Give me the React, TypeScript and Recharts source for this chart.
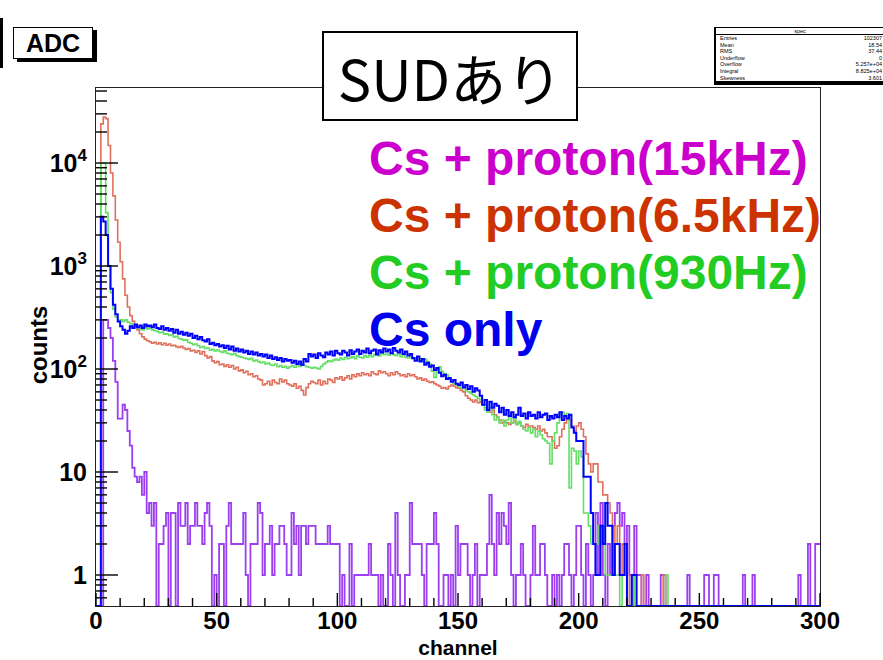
import React from 'react';
import { LineChart, Line, XAxis, YAxis } from 'recharts';

// ADC spectrum with SUD, counts per channel (bin width = 1 channel, channels 0..299)
const csOnly = [
  0, 0, 3000, 2700, 2000, 1000, 600, 420, 340, 290, 260, 240, 220, 235, 260, 250, 270, 255, 265, 250,
  270, 260, 265, 255, 270, 250, 245, 260, 240, 250, 235, 245, 225, 240, 220, 230, 215, 225, 210, 220,
  200, 210, 195, 205, 190, 185, 195, 175, 180, 170, 175, 165, 170, 160, 168, 155, 165, 150, 158, 148,
  155, 145, 150, 140, 148, 138, 145, 135, 140, 132, 138, 128, 135, 125, 130, 122, 128, 118, 125, 120,
  122, 115, 120, 112, 118, 110, 125, 118, 140, 132, 138, 128, 142, 135, 130, 145, 138, 148, 135, 150,
  142, 138, 150, 145, 135, 152, 140, 148, 155, 140, 150, 145, 158, 142, 150, 155, 138, 152, 145, 158,
  148, 155, 142, 160, 150, 145, 155, 140, 148, 135, 140, 128, 120, 132, 118, 125, 110, 115, 105, 108,
  98, 102, 92, 85, 88, 80, 82, 75, 78, 72, 70, 74, 66, 70, 64, 68, 60, 65, 62, 55,
  45, 50, 40, 48, 42, 46, 44, 38, 42, 36, 40, 35, 38, 34, 36, 42, 35, 37, 33, 38,
  35, 36, 33, 38, 34, 36, 37, 32, 35, 33, 36, 34, 38, 32, 35, 33, 36, 27, 24, 20,
  20, 20, 9, 9, 9, 4, 2, 1, 1, 3, 2, 5, 3, 3, 1, 2, 2, 1, 1, 2,
  0, 0, 1, 1, 0, 0, 0, 0, 0, 0, 0, 0, 0, 0, 0, 0, 0, 0, 0, 0,
  0, 0, 0, 0, 0, 0, 0, 0, 0, 0, 0, 0, 0, 0, 0, 0, 0, 0, 0, 0,
  0, 0, 0, 0, 0, 0, 0, 0, 0, 0, 0, 0, 0, 0, 0, 0, 0, 0, 0, 0,
  0, 0, 0, 0, 0, 0, 0, 0, 0, 0, 0, 0, 0, 0, 0, 0, 0, 0, 0, 0,
];

const cs930Hz = [
  0, 0, 10000, 10000, 3300, 1000, 550, 380, 320, 290, 300, 290, 300, 285, 275, 265, 255, 250, 245, 240,
  255, 245, 250, 240, 235, 232, 225, 228, 218, 220, 212, 215, 205, 208, 198, 195, 190, 192, 182, 178,
  172, 175, 168, 162, 165, 158, 160, 152, 155, 150, 153, 148, 145, 150, 142, 140, 138, 142, 135, 132,
  130, 128, 126, 124, 127, 120, 122, 118, 115, 117, 112, 114, 110, 108, 112, 105, 108, 104, 106, 102,
  105, 108, 104, 110, 106, 109, 108, 105, 104, 102, 104, 102, 100, 106, 112, 116, 120, 118, 122, 125,
  122, 128, 124, 130, 126, 128, 132, 126, 134, 130, 128, 135, 130, 136, 132, 138, 140, 134, 142, 138,
  140, 136, 142, 138, 135, 140, 132, 136, 130, 128, 132, 125, 128, 122, 126, 120, 124, 118, 112, 95,
  83, 100, 105, 95, 90, 88, 80, 76, 72, 70, 68, 65, 66, 62, 60, 58, 56, 54, 52, 50,
  45, 40, 38, 42, 36, 32, 34, 30, 32, 28, 32, 35, 30, 33, 29, 31, 28, 26, 25, 27,
  24, 26, 22, 25, 23, 21, 20, 19, 12, 20, 24, 30, 36, 38, 36, 37, 7, 17, 16, 12,
  16, 14, 4, 4, 3, 2, 2, 2, 3, 2, 3, 1, 1, 1, 2, 1, 1, 0, 1, 1,
  0, 0, 1, 0, 0, 0, 0, 0, 0, 0, 0, 0, 0, 0, 0, 0, 1, 0, 0, 0,
  0, 0, 0, 0, 0, 0, 0, 0, 0, 0, 0, 0, 0, 0, 0, 0, 0, 0, 0, 0,
  0, 0, 0, 0, 0, 0, 0, 0, 0, 0, 0, 0, 0, 0, 0, 0, 0, 0, 0, 0,
  0, 0, 0, 0, 0, 0, 0, 0, 0, 0, 0, 0, 0, 0, 0, 0, 0, 0, 0, 0,
];

const cs65kHz = [
  0, 0, 24000, 28000, 27000, 14800, 8000, 4800, 2800, 1700, 1100, 750, 520, 400, 330, 290, 260, 240, 220, 205,
  195, 188, 184, 178, 182, 175, 180, 172, 178, 170, 175, 168, 170, 165, 162, 166, 160, 155, 158, 150,
  152, 145, 150, 140, 148, 135, 128, 132, 120, 115, 118, 110, 112, 106, 110, 104, 108, 100, 104, 96,
  98, 92, 95, 88, 90, 84, 86, 80, 78, 70, 72, 76, 70, 78, 74, 72, 80, 75, 78, 72,
  70, 68, 72, 65, 68, 62, 56, 66, 72, 76, 74, 72, 78, 70, 76, 72, 80, 78, 74, 82,
  80, 84, 78, 82, 86, 80, 88, 84, 90, 86, 92, 88, 90, 86, 94, 90, 88, 96, 92, 94,
  90, 86, 92, 88, 94, 90, 86, 88, 84, 90, 86, 88, 84, 80, 82, 78, 80, 76, 74, 75,
  72, 70, 68, 65, 66, 64, 68, 70, 68, 66, 65, 62, 60, 55, 52, 50, 48, 50, 47, 48,
  45, 42, 40, 38, 40, 36, 34, 32, 30, 31, 30, 29, 30, 31, 29, 30, 28, 27, 29, 28,
  28, 27, 26, 28, 25, 26, 24, 22, 22, 20, 17, 18, 22, 26, 30, 32, 32, 28, 25, 28,
  30, 26, 22, 15, 12, 10, 12, 12, 8, 8, 6, 6, 5, 4, 3, 2, 3, 1, 2, 1,
  0, 1, 0, 0, 0, 0, 1, 0, 0, 0, 0, 0, 0, 0, 0, 1, 0, 0, 0, 0,
  0, 0, 0, 0, 0, 0, 0, 0, 0, 0, 0, 0, 0, 0, 0, 0, 0, 0, 0, 0,
  0, 0, 0, 0, 0, 0, 0, 0, 0, 0, 0, 0, 0, 0, 0, 0, 0, 0, 0, 0,
  0, 0, 0, 0, 0, 0, 0, 0, 0, 0, 0, 0, 0, 0, 0, 0, 0, 0, 0, 0,
];

const cs15kHz = [
  0, 0, 0, 300, 300, 250, 200, 120, 75, 33, 33, 45, 40, 25, 18, 11, 9, 8, 9, 6,
  10, 4, 5, 3, 5, 0, 2, 2, 3, 4, 0, 4, 4, 0, 5, 3, 3, 5, 2, 3,
  3, 5, 3, 3, 2, 4, 5, 3, 0, 1, 0, 2, 2, 0, 3, 5, 2, 2, 2, 2,
  2, 4, 1, 0, 2, 2, 2, 5, 4, 1, 2, 2, 3, 1, 2, 2, 3, 3, 2, 1,
  1, 4, 2, 3, 1, 3, 3, 2, 3, 3, 3, 2, 2, 2, 2, 2, 3, 2, 2, 2,
  2, 0, 1, 0, 0, 2, 0, 1, 1, 1, 1, 1, 1, 2, 1, 1, 1, 0, 1, 0,
  0, 2, 1, 0, 4, 1, 0, 0, 1, 1, 5, 2, 2, 2, 2, 1, 0, 2, 2, 2,
  4, 2, 0, 0, 1, 1, 0, 1, 0, 3, 1, 2, 2, 2, 1, 0, 1, 2, 0, 1,
  1, 1, 2, 6, 2, 1, 4, 2, 4, 3, 2, 5, 1, 0, 1, 1, 2, 1, 0, 0,
  1, 3, 1, 1, 2, 2, 1, 0, 0, 1, 0, 1, 0, 1, 2, 2, 1, 0, 1, 3,
  3, 1, 0, 2, 1, 0, 1, 4, 1, 5, 1, 0, 2, 1, 3, 4, 5, 3, 4, 2,
  3, 1, 0, 3, 1, 1, 0, 0, 1, 0, 0, 0, 0, 0, 1, 1, 0, 0, 0, 0,
  0, 0, 0, 0, 0, 1, 0, 0, 0, 0, 0, 0, 1, 1, 0, 0, 1, 1, 0, 0,
  0, 0, 0, 0, 0, 0, 0, 0, 1, 0, 0, 0, 1, 0, 0, 0, 0, 0, 0, 0,
  0, 0, 0, 0, 0, 0, 0, 0, 0, 0, 0, 1, 0, 0, 0, 2, 0, 0, 2, 2,
];

const legendItems = [
  { text: 'Cs + proton(15kHz)', color: '#cc00cc' },
  { text: 'Cs + proton(6.5kHz)', color: '#cc3300' },
  { text: 'Cs + proton(930Hz)', color: '#22cc22' },
  { text: 'Cs only', color: '#0000ee' },
];

const xMajorTicks = [0, 50, 100, 150, 200, 250, 300];
const xTicks = [
  0, 10, 20, 30, 40, 50, 60, 70, 80, 90, 100, 110, 120, 130, 140, 150,
  160, 170, 180, 190, 200, 210, 220, 230, 240, 250, 260, 270, 280, 290, 300,
];
const yMajorTicks = [1, 10, 100, 1000, 10000];
const yMinorSteps = [2, 3, 4, 5, 6, 7, 8, 9];
const yBelowOne = [0.6, 0.7, 0.8, 0.9];

const statsRows = [
  ['Entries', '102307'],
  ['Mean', '18.54'],
  ['RMS', '37.44'],
  ['Underflow', '0'],
  ['Overflow', '5.257e+04'],
  ['Integral', '8.825e+04'],
  ['Skewness', '3.601'],
];

const Y_MIN = 0.5; // bottom of log axis, empty bins are drawn on it
const Y_MAX = 53500;

const yTicks = [...yBelowOne];
yMajorTicks.forEach((d) => {
  yTicks.push(d);
  yMinorSteps.forEach((m) => {
    if (m * d <= Y_MAX) yTicks.push(m * d);
  });
});

const onLog = (v: number) => (v > 0 ? v : Y_MIN);

const rows = csOnly.map((_, i) => ({
  ch: i,
  blue: onLog(csOnly[i]),
  green: onLog(cs930Hz[i]),
  red: onLog(cs65kHz[i]),
  purple: onLog(cs15kHz[i]),
}));
// closing edge of the last bin
rows.push({ ...rows[rows.length - 1], ch: 300 });

const FONT = '"Liberation Sans", Arial, Helvetica, sans-serif';

const YTick = (props: any) => {
  const { x, y, payload } = props;
  const v = payload.value;
  const major = yMajorTicks.includes(v);
  const exp = Math.round(Math.log10(v));
  return (
    <g>
      <line x1={x} x2={x + (major ? 22 : 11)} y1={y} y2={y} stroke="#000" strokeWidth={1.4} />
      {major && (
        <text x={x - 9} y={y + 9} textAnchor="end" fontFamily={FONT} fontWeight="bold" fontSize={25} fill="#000">
          {v < 100 ? (
            String(v)
          ) : (
            <>
              10
              <tspan dy={-11} fontSize={17}>{exp}</tspan>
            </>
          )}
        </text>
      )}
    </g>
  );
};

const XTick = (props: any) => {
  const { x, y, payload } = props;
  const major = xMajorTicks.includes(payload.value);
  return (
    <g>
      <line x1={x} x2={x} y1={y} y2={y - (major ? 13 : 8)} stroke="#000" strokeWidth={1.4} />
      {major && (
        <text x={x} y={y + 23} textAnchor="middle" fontFamily={FONT} fontWeight="bold" fontSize={24} fill="#000">
          {payload.value}
        </text>
      )}
    </g>
  );
};

export default function App() {
  return (
    <div style={{ position: 'absolute', left: 0, top: 0, width: 883, height: 660, overflow: 'hidden', background: '#fff' }}>
      {/* plot frame */}
      <div style={{ position: 'absolute', left: 95, top: 87, width: 726, height: 520, border: '1.5px solid #222', boxSizing: 'border-box' }} />

      <div style={{ position: 'absolute', left: 0, top: 0 }}>
        <LineChart width={883} height={660} data={rows} margin={{ top: 88, right: 63, bottom: 0, left: 0 }}>
          <XAxis
            dataKey="ch"
            type="number"
            domain={[0, 300]}
            ticks={xTicks}
            interval={0}
            tickSize={0}
            tickMargin={0}
            axisLine={false}
            tick={<XTick />}
            height={54}
            allowDataOverflow
          />
          <YAxis
            scale="log"
            type="number"
            domain={[Y_MIN, Y_MAX]}
            ticks={yTicks}
            interval={0}
            tickSize={0}
            tickMargin={0}
            axisLine={false}
            tick={<YTick />}
            width={96}
            allowDataOverflow
          />
          <Line dataKey="purple" type="stepAfter" stroke="#9b3ff0" strokeWidth={1.8} dot={false} isAnimationActive={false} />
          <Line dataKey="red" type="stepAfter" stroke="#e0705c" strokeWidth={1.6} dot={false} isAnimationActive={false} />
          <Line dataKey="green" type="stepAfter" stroke="#66dd66" strokeWidth={1.6} dot={false} isAnimationActive={false} />
          <Line dataKey="blue" type="stepAfter" stroke="#0000ff" strokeWidth={2} dot={false} isAnimationActive={false} />
        </LineChart>
      </div>

      {/* axis titles and legend */}
      <div style={{ position: 'absolute', left: 0, top: 0, width: 883, height: 660, pointerEvents: 'none' }}>
        <svg width={883} height={660}>
          <text x={458} y={655} textAnchor="middle" fontFamily={FONT} fontWeight="bold" fontSize={21}>channel</text>
          <text x={47} y={345} transform="rotate(-90 47 345)" textAnchor="middle" fontFamily={FONT} fontWeight="bold" fontSize={24}>counts</text>
          {legendItems.map((item, i) => (
            <text key={item.text} x={369} y={175 + i * 57} fontFamily={FONT} fontWeight="bold" fontSize={48} fill={item.color}>
              {item.text}
            </text>
          ))}
        </svg>
      </div>

      {/* corner of the canvas box at the far left */}
      <div style={{ position: 'absolute', left: 0, top: 18, width: 3, height: 50, background: '#000' }} />

      {/* ADC title box */}
      <div
        style={{
          position: 'absolute', left: 13, top: 27, width: 80, height: 32, border: '1.5px solid #000', boxSizing: 'border-box',
          boxShadow: '4px 3px 0 #000', background: '#fff', fontFamily: FONT, fontWeight: 'bold', fontSize: 25,
          display: 'flex', alignItems: 'center', justifyContent: 'center',
        }}
      >
        ADC
      </div>

      {/* stats box */}
      <div
        style={{
          position: 'absolute', left: 714, top: 27, width: 190, height: 55, border: '1px solid #000', borderLeftWidth: 2,
          boxSizing: 'border-box', boxShadow: '0 3px 0 #000', background: '#fff', fontFamily: FONT, fontSize: 5.5, lineHeight: '6.6px',
        }}
      >
        <div style={{ textAlign: 'center', width: 168, borderBottom: '1px solid #000', height: 6 }}>spec</div>
        {statsRows.map(([k, v]) => (
          <div key={k} style={{ display: 'flex', justifyContent: 'space-between', width: 162, paddingLeft: 4 }}>
            <span>{k}</span>
            <span>{v}</span>
          </div>
        ))}
      </div>

      {/* SUD label */}
      <div
        style={{
          position: 'absolute', left: 322, top: 31, width: 256, height: 90, border: '2px solid #000', boxSizing: 'border-box',
          background: '#fff', fontFamily: '"Noto Sans CJK JP", sans-serif', fontSize: 56, color: '#000',
          display: 'flex', alignItems: 'center', justifyContent: 'center',
        }}
      >
        SUDあり
      </div>
    </div>
  );
}
